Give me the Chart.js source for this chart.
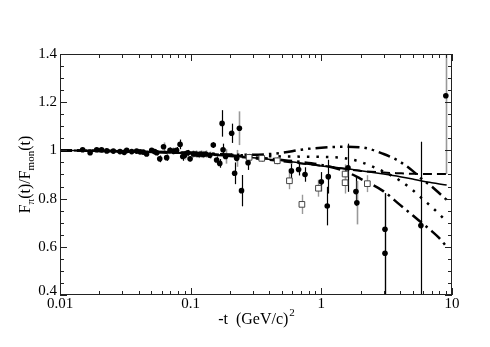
<!DOCTYPE html>
<html>
<head>
<meta charset="utf-8">
<script src="https://cdn.jsdelivr.net/npm/chart.js@4.4.0/dist/chart.umd.min.js"></script>
<style>
  html, body { margin: 0; padding: 0; background: #fff; }
  canvas { display: block; }
</style>
</head>
<body>
<canvas id="chart" width="490" height="347"></canvas>
<script>
// model curves, sampled in -t
const curveT      = [0.01, 0.02, 0.05, 0.1, 0.2, 0.3, 0.5, 0.7, 1, 1.5, 2, 3, 4, 5, 6, 7, 8, 9.1];
const solidY      = [1.0, 0.998, 0.993, 0.987, 0.978, 0.970, 0.958, 0.947, 0.935, 0.925, 0.916, 0.902, 0.891, 0.881, 0.872, 0.866, 0.861, 0.856];
const dashedY     = [1.0, 0.998, 0.993, 0.987, 0.976, 0.967, 0.955, 0.946, 0.937, 0.924, 0.915, 0.908, 0.905, 0.903, 0.902, 0.902, 0.902, 0.902];
const dashDotDotY = [1.0, 0.998, 0.994, 0.990, 0.983, 0.982, 0.990, 1.003, 1.011, 1.015, 1.013, 0.985, 0.953, 0.915, 0.877, 0.850, 0.822, 0.795];
const dottedY     = [1.0, 0.998, 0.994, 0.990, 0.982, 0.978, 0.975, 0.974, 0.973, 0.968, 0.952, 0.912, 0.875, 0.835, 0.797, 0.765, 0.735, 0.705];
const dashDotY    = [1.0, 0.998, 0.994, 0.990, 0.979, 0.972, 0.960, 0.952, 0.940, 0.915, 0.882, 0.830, 0.774, 0.731, 0.695, 0.665, 0.636, 0.600];

// filled circles, black error bars
const circT  = [0.0149, 0.0170, 0.0191, 0.0208, 0.0228, 0.0256, 0.0288, 0.0310, 0.0324, 0.0354, 0.0386, 0.0410, 0.0433, 0.0460, 0.0503, 0.0530, 0.0550, 0.0580, 0.0655, 0.0695, 0.0780, 0.0830, 0.0870, 0.0950, 0.0990, 0.1490, 0.1580, 0.1670, 0.1740, 0.1770, 0.2060, 0.2170, 0.2450, 0.2750, 0.5900, 0.6700, 0.7500, 1.0000, 1.1100, 1.1300, 1.6000, 1.8400, 3.0700, 3.0700, 5.7800];
const circY  = [1.003, 0.990, 1.003, 1.002, 0.998, 0.997, 0.995, 0.992, 1.000, 0.995, 0.997, 0.994, 0.993, 0.985, 1.000, 0.995, 0.990, 0.965, 0.970, 1.000, 1.000, 1.025, 0.975, 0.990, 0.965, 1.022, 0.960, 0.946, 1.112, 1.003, 1.071, 0.905, 0.833, 0.949, 0.915, 0.921, 0.900, 0.870, 0.769, 0.891, 0.928, 0.829, 0.673, 0.573, 0.688];
const circLo = [0.004, 0.005, 0.004, 0.004, 0.004, 0.005, 0.005, 0.005, 0.005, 0.006, 0.006, 0.006, 0.007, 0.008, 0.008, 0.009, 0.010, 0.014, 0.013, 0.012, 0.014, 0.020, 0.018, 0.012, 0.010, 0.012, 0.015, 0.018, 0.055, 0.025, 0.040, 0.045, 0.065, 0.030, 0.030, 0.025, 0.030, 0.040, 0.080, 0.070, 0.100, 0.060, 0.300, 0.200, 0.300];
const circHi = [0.004, 0.005, 0.004, 0.004, 0.004, 0.005, 0.005, 0.005, 0.005, 0.006, 0.006, 0.006, 0.007, 0.008, 0.008, 0.009, 0.010, 0.014, 0.013, 0.012, 0.014, 0.020, 0.018, 0.012, 0.010, 0.012, 0.015, 0.018, 0.055, 0.025, 0.040, 0.045, 0.065, 0.030, 0.030, 0.025, 0.030, 0.040, 0.080, 0.070, 0.100, 0.060, 0.149, 0.249, 0.348];

// filled circles, grey error bars
const circGT  = [0.0620, 0.0738, 0.0900, 0.1050, 0.1100, 0.1150, 0.1200, 0.1250, 0.1300, 0.1400, 0.1850, 0.2250, 0.2360, 1.8700, 8.9700];
const circGY  = [1.015, 0.997, 0.980, 0.985, 0.985, 0.983, 0.985, 0.983, 0.985, 0.980, 0.975, 0.967, 1.092, 0.783, 1.227];
const circGLo = [0.018, 0.015, 0.018, 0.015, 0.015, 0.015, 0.015, 0.015, 0.015, 0.015, 0.030, 0.035, 0.070, 0.090, 0.325];
const circGHi = [0.018, 0.015, 0.018, 0.015, 0.015, 0.015, 0.015, 0.015, 0.015, 0.015, 0.030, 0.035, 0.070, 0.090, 0.300];

// open squares
const sqT   = [0.28, 0.35, 0.46, 0.57, 0.71, 0.95, 1.52, 1.52, 2.25];
const sqY   = [0.971, 0.967, 0.957, 0.874, 0.776, 0.843, 0.902, 0.866, 0.862];
const sqErr = [0.015, 0.015, 0.015, 0.035, 0.040, 0.035, 0.040, 0.045, 0.035];

// axes
const xMajor = [0.01, 0.1, 1, 10];
const xTickLabels = ['0.01', '0.1', '1', '10'];
const yMajor = [0.4, 0.6, 0.8, 1.0, 1.2, 1.4];
const yTickLabels = ['0.4', '0.6', '0.8', '1', '1.2', '1.4'];

const pts = (xs, ys) => xs.map((v, i) => ({ x: v, y: ys[i] }));

const curve = (ys, dash, width) => ({
    data: pts(curveT, ys),
    showLine: true,
    borderColor: '#000',
    borderWidth: width,
    borderDash: dash,
    pointRadius: 0,
    cubicInterpolationMode: 'monotone',
    order: 5
});

const barGroups = [
    { t: circT, y: circY, lo: circLo, hi: circHi, color: '#000', width: 1.2 },
    { t: circGT, y: circGY, lo: circGLo, hi: circGHi, color: '#999', width: 1.6 },
    { t: sqT, y: sqY, lo: sqErr, hi: sqErr, color: '#999', width: 1.4 }
];

const SERIF = '"Liberation Serif", "DejaVu Serif", serif';

// error bars under the markers
const errorBars = {
    id: 'errorBars',
    beforeDatasetsDraw(chart) {
        const { ctx, chartArea: a, scales: { x, y } } = chart;
        ctx.save();
        ctx.beginPath();
        ctx.rect(a.left, a.top, a.right - a.left, a.bottom - a.top);
        ctx.clip();
        barGroups.forEach(g => {
            ctx.strokeStyle = g.color;
            ctx.lineWidth = g.width;
            g.t.forEach((t, i) => {
                const px = Math.round(x.getPixelForValue(t)) + 0.5;
                ctx.beginPath();
                ctx.moveTo(px, y.getPixelForValue(g.y[i] - g.lo[i]));
                ctx.lineTo(px, y.getPixelForValue(g.y[i] + g.hi[i]));
                ctx.stroke();
            });
        });
        ctx.restore();
    }
};

// frame, inward ticks, labels and axis titles
const frame = {
    id: 'frame',
    afterDraw(chart) {
        const { ctx, chartArea: a, scales: { x, y } } = chart;
        ctx.save();
        ctx.strokeStyle = '#222';
        ctx.lineWidth = 1;
        ctx.strokeRect(a.left + 0.5, a.top + 0.5, a.right - a.left - 1, a.bottom - a.top - 1);

        const tick = (x1, y1, x2, y2) => {
            ctx.beginPath(); ctx.moveTo(x1, y1); ctx.lineTo(x2, y2); ctx.stroke();
        };

        // x ticks: majors at decades, minors at 2..9
        for (let d = 0.01; d < 10; d *= 10) {
            for (let k = 1; k <= 10; k++) {
                const v = d * k;
                const px = Math.round(x.getPixelForValue(v)) + 0.5;
                const len = (k === 1 || k === 10) ? 7 : 4;
                tick(px, a.bottom, px, a.bottom - len);
                tick(px, a.top, px, a.top + len);
            }
        }
        // y ticks every 0.05, majors every 0.2
        for (let i = 0; i <= 20; i++) {
            const v = 0.4 + i * 0.05;
            const py = Math.round(y.getPixelForValue(v)) + 0.5;
            const len = (i % 4 === 0) ? 7 : 4;
            tick(a.left, py, a.left + len, py);
            tick(a.right, py, a.right - len, py);
        }

        ctx.fillStyle = '#000';
        ctx.font = '15px ' + SERIF;
        ctx.textAlign = 'center';
        ctx.textBaseline = 'alphabetic';
        xMajor.forEach((v, i) => {
            ctx.fillText(xTickLabels[i], x.getPixelForValue(v), a.bottom + 13);
        });
        ctx.textAlign = 'right';
        ctx.textBaseline = 'middle';
        yMajor.forEach((v, i) => {
            const shift = i === 0 ? -4 : 0;
            ctx.fillText(yTickLabels[i], a.left - 3, y.getPixelForValue(v) + shift);
        });

        // x title: -t  (GeV/c)^2
        const big = '16px ' + SERIF, small = '11px ' + SERIF;
        ctx.textAlign = 'left';
        ctx.textBaseline = 'alphabetic';
        ctx.font = big;
        const main = '-t  (GeV/c)';
        const wMain = ctx.measureText(main).width;
        ctx.font = small;
        const wSup = ctx.measureText('2').width;
        const cx = (a.left + a.right) / 2;
        let sx = cx - (wMain + wSup) / 2;
        ctx.font = big;
        ctx.fillText(main, sx, 324);
        ctx.font = small;
        ctx.fillText('2', sx + wMain + 1, 316);

        // y title: F_pi(t)/F_mon(t)
        const parts = [['F', big, 0], ['π', small, 4], ['(t)/F', big, 0], ['mon', small, 4], ['(t)', big, 0]];
        let total = 0;
        parts.forEach(p => { ctx.font = p[1]; total += ctx.measureText(p[0]).width; });
        ctx.translate(30, (a.top + a.bottom) / 2);
        ctx.rotate(-Math.PI / 2);
        let tx = -total / 2;
        parts.forEach(p => {
            ctx.font = p[1];
            ctx.fillText(p[0], tx, p[2]);
            tx += ctx.measureText(p[0]).width;
        });
        ctx.restore();
    }
};

new Chart(document.getElementById('chart'), {
    type: 'scatter',
    data: {
        datasets: [
            {
                data: pts(circT, circY),
                pointRadius: 2.8,
                pointBackgroundColor: '#000',
                pointBorderColor: '#000',
                pointBorderWidth: 0,
                order: 1
            },
            {
                data: pts(circGT, circGY),
                pointRadius: 2.8,
                pointBackgroundColor: '#000',
                pointBorderColor: '#000',
                pointBorderWidth: 0,
                order: 1
            },
            {
                data: pts(sqT, sqY),
                pointStyle: 'rect',
                pointRadius: 4,
                pointBackgroundColor: '#fff',
                pointBorderColor: '#444',
                pointBorderWidth: 1,
                order: 1
            },
            curve(solidY, [], 1.5),
            curve(dashedY, [9, 5], 2),
            curve(dashDotDotY, [12, 5, 2.5, 5, 2.5, 5], 2.5),
            curve(dottedY, [2.5, 7], 2.5),
            curve(dashDotY, [12, 5, 2.5, 5], 2.5)
        ]
    },
    options: {
        responsive: false,
        animation: false,
        layout: { padding: { left: 60, right: 38, top: 54, bottom: 52 } },
        plugins: {
            legend: { display: false },
            tooltip: { enabled: false }
        },
        scales: {
            x: { type: 'logarithmic', min: 0.01, max: 10, display: false },
            y: { type: 'linear', min: 0.4, max: 1.4, display: false }
        }
    },
    plugins: [errorBars, frame]
});
</script>
</body>
</html>
